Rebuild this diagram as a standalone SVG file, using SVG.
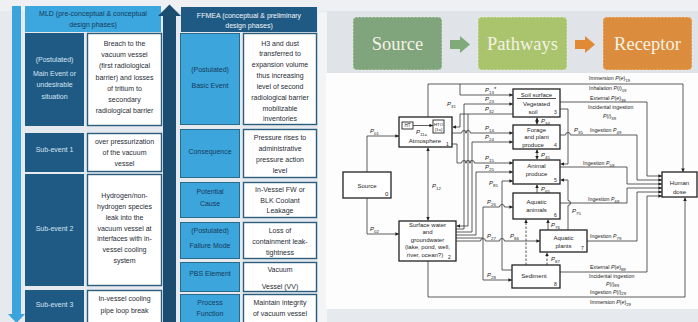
<svg xmlns="http://www.w3.org/2000/svg" width="698" height="322" viewBox="0 0 698 322">
<defs>
<style>
.t7{font-family:"Liberation Sans",Arial,sans-serif;font-size:7px;text-anchor:middle}
.tl{fill:#d3e5f3}
.tn{fill:#153a5c}
.tb{fill:#1f2b36}
.dk{fill:#1f5a84}
.wb{fill:#fff;stroke:#2b5d7e;stroke-width:1.4}
.lb{fill:#3ca6dc;stroke:#2a6a8a;stroke-width:1}
.spr{font-family:"Liberation Serif","Times New Roman",serif;font-size:18.5px;fill:#f4f2e6;text-anchor:middle}
.bx{fill:#fff;stroke:#222;stroke-width:1.3}
.ln{fill:none;stroke:#333;stroke-width:0.8}
.ar{marker-end:url(#ah)}
.ab{marker-start:url(#ah);marker-end:url(#ah)}
.dl{stroke-dasharray:2.5 1.5}
.dt{font-family:"Liberation Sans",Arial,sans-serif;font-size:6px;fill:#222}
.dc{text-anchor:middle}
.lt{font-family:"Liberation Sans",Arial,sans-serif;font-size:5.3px;fill:#222}
.pl{font-family:"Liberation Sans",Arial,sans-serif;font-size:6px;font-style:italic;fill:#222}
.sb{font-size:4.3px;font-style:normal}
</style>
<marker id="ah" viewBox="0 0 6 6" refX="6" refY="3" markerUnits="userSpaceOnUse" markerWidth="3.6" markerHeight="3.6" orient="auto-start-reverse"><path d="M0,0 L6,3 L0,6 z" fill="#222"/></marker>
</defs>

<rect width="698" height="322" fill="#e6eaee"/>
<rect x="0" y="0" width="698" height="11" fill="#eef0f3"/>
<rect x="318" y="12" width="9" height="310" fill="#f2f4f6"/>
<rect x="327" y="11" width="371" height="62" fill="#e0e4e9"/>
<rect x="326" y="73" width="372" height="236" fill="#fdfdfd"/>

<!-- MLD column -->
<g id="mld-axis">
<rect x="12" y="6" width="9" height="309" fill="#3ba4dc"/>
<polygon points="8,314 25,314 16.5,323" fill="#3ba4dc"/>
</g>
<g id="mld-header">
<rect x="25" y="6" width="136" height="26" fill="#3ba7de"/>
<text class="t7 tn" x="93" y="15.5">MLD (pre-conceptual &amp; conceptual</text>
<text class="t7 tn" x="93" y="26.5">design phases)</text>
</g>
<g id="mld-main">
<rect class="dk" x="25" y="33" width="59" height="93"/>
<rect class="wb" x="87.5" y="33.5" width="74" height="92"/>
<text class="t7 tl" x="54.5" y="62">(Postulated)</text>
<text class="t7 tl" x="54.5" y="76">Main Event or</text>
<text class="t7 tl" x="54.5" y="87">undesirable</text>
<text class="t7 tl" x="54.5" y="98.5">situation</text>
<text class="t7 tb" x="124.5" y="46">Breach to the</text>
<text class="t7 tb" x="124.5" y="57">vacuum vessel</text>
<text class="t7 tb" x="124.5" y="68">(first radiological</text>
<text class="t7 tb" x="124.5" y="79.5">barrier) and losses</text>
<text class="t7 tb" x="124.5" y="90.5">of tritium to</text>
<text class="t7 tb" x="124.5" y="101.5">secondary</text>
<text class="t7 tb" x="124.5" y="112.5">radiological barrier</text>
</g>
<g id="mld-sub1">
<rect class="dk" x="25" y="133" width="59" height="39"/>
<rect class="wb" x="87.5" y="133.5" width="74" height="38"/>
<text class="t7 tl" x="54.5" y="151.5">Sub-event 1</text>
<text class="t7 tb" x="124.5" y="144">over pressurization</text>
<text class="t7 tb" x="124.5" y="155">of the vacuum</text>
<text class="t7 tb" x="124.5" y="165.5">vessel</text>
</g>
<g id="mld-sub2">
<rect class="dk" x="25" y="174" width="59" height="112"/>
<rect class="wb" x="87.5" y="174.5" width="74" height="111"/>
<text class="t7 tl" x="54.5" y="230.5">Sub-event 2</text>
<text class="t7 tb" x="124.5" y="197.5">Hydrogen/non-</text>
<text class="t7 tb" x="124.5" y="209">hydrogen species</text>
<text class="t7 tb" x="124.5" y="219.5">leak into the</text>
<text class="t7 tb" x="124.5" y="230.5">vacuum vessel at</text>
<text class="t7 tb" x="124.5" y="241">interfaces with in-</text>
<text class="t7 tb" x="124.5" y="251.5">vessel cooling</text>
<text class="t7 tb" x="124.5" y="262.5">system</text>
</g>
<g id="mld-sub3">
<rect class="dk" x="25" y="290" width="59" height="40"/>
<rect class="wb" x="87.5" y="290.5" width="74" height="40"/>
<text class="t7 tl" x="54.5" y="306.5">Sub-event 3</text>
<text class="t7 tb" x="124.5" y="300.5">In-vessel cooling</text>
<text class="t7 tb" x="124.5" y="312.5">pipe loop break</text>
</g>

<!-- FFMEA column -->
<g id="ffmea-axis">
<rect x="163" y="15" width="13" height="307" fill="#1b4d70"/>
<polygon points="158,16 169.5,4.5 181,16" fill="#1b4d70"/>
</g>
<g id="ffmea-header">
<rect x="181" y="7" width="136" height="25" fill="#1f5a84"/>
<text class="t7" fill="#f2f6fa" x="249" y="17.5">FFMEA (conceptual &amp; preliminary</text>
<text class="t7" fill="#f2f6fa" x="249" y="28">design phases)</text>
</g>
<g id="ffmea-basic">
<rect class="lb" x="180.5" y="33.5" width="59" height="91"/>
<rect class="wb" x="243.5" y="33.5" width="73" height="91"/>
<text class="t7 tn" x="210" y="71.5">(Postulated)</text>
<text class="t7 tn" x="210" y="87.5">Basic Event</text>
<text class="t7 tb" x="280" y="45.5">H3 and dust</text>
<text class="t7 tb" x="280" y="56">transferred to</text>
<text class="t7 tb" x="280" y="66.5">expansion volume</text>
<text class="t7 tb" x="280" y="78">thus increasing</text>
<text class="t7 tb" x="280" y="89">level of second</text>
<text class="t7 tb" x="280" y="100">radiological barrier</text>
<text class="t7 tb" x="280" y="110.5">mobilizable</text>
<text class="t7 tb" x="280" y="120.5">inventories</text>
</g>
<g id="ffmea-consequence">
<rect class="lb" x="180.5" y="129.5" width="59" height="48"/>
<rect class="wb" x="243.5" y="129.5" width="73" height="48"/>
<text class="t7 tn" x="210" y="153.5">Consequence</text>
<text class="t7 tb" x="280" y="139.5">Pressure rises to</text>
<text class="t7 tb" x="280" y="150.5">administrative</text>
<text class="t7 tb" x="280" y="161.5">pressure action</text>
<text class="t7 tb" x="280" y="172.5">level</text>
</g>
<g id="ffmea-cause">
<rect class="lb" x="180.5" y="182.5" width="59" height="35"/>
<rect class="wb" x="243.5" y="182.5" width="73" height="35"/>
<text class="t7 tn" x="210" y="193.5">Potential</text>
<text class="t7 tn" x="210" y="205.5">Cause</text>
<text class="t7 tb" x="280" y="191.5">In-Vessel FW or</text>
<text class="t7 tb" x="280" y="202.5">BLK Coolant</text>
<text class="t7 tb" x="280" y="212.5">Leakage</text>
</g>
<g id="ffmea-failure">
<rect class="lb" x="180.5" y="222.5" width="59" height="36"/>
<rect class="wb" x="243.5" y="222.5" width="73" height="36"/>
<text class="t7 tn" x="210" y="232.5">(Postulated)</text>
<text class="t7 tn" x="210" y="247.5">Failure Mode</text>
<text class="t7 tb" x="280" y="232.5">Loss of</text>
<text class="t7 tb" x="280" y="243.5">containment leak-</text>
<text class="t7 tb" x="280" y="254.5">tightness</text>
</g>
<g id="ffmea-pbs">
<rect class="lb" x="180.5" y="262.5" width="59" height="29"/>
<rect class="wb" x="243.5" y="262.5" width="73" height="29"/>
<text class="t7 tn" x="210" y="275.5">PBS Element</text>
<text class="t7 tb" x="280" y="271.5">Vacuum</text>
<text class="t7 tb" x="280" y="288.5">Vessel (VV)</text>
</g>
<g id="ffmea-process">
<rect class="lb" x="180.5" y="294.5" width="59" height="36"/>
<rect class="wb" x="243.5" y="294.5" width="73" height="36"/>
<text class="t7 tn" x="210" y="304.5">Process</text>
<text class="t7 tn" x="210" y="315.5">Function</text>
<text class="t7 tb" x="280" y="304.5">Maintain integrity</text>
<text class="t7 tb" x="280" y="316">of vacuum vessel</text>
</g>

<!-- Source / Pathways / Receptor -->
<g id="spr-source">
<rect x="353" y="17" width="89" height="53" rx="4" fill="#80a47c" stroke="#e6eedb" stroke-width="0.8" stroke-dasharray="2 1.5"/>
<text class="spr" x="397.5" y="50">Source</text>
</g>
<g id="spr-pathways">
<rect x="478" y="17" width="89" height="53" rx="4" fill="#a9c46d" stroke="#eef3d8" stroke-width="0.8" stroke-dasharray="2 1.5"/>
<text class="spr" x="522.5" y="50">Pathways</text>
</g>
<g id="spr-receptor">
<rect x="603" y="17" width="89" height="53" rx="4" fill="#db8c3c" stroke="#f6e2c8" stroke-width="0.8" stroke-dasharray="2 1.5"/>
<text class="spr" x="647.5" y="50">Receptor</text>
</g>

<!-- Pathway model nodes -->
<g id="n-source">
<rect class="bx" x="343" y="172" width="48" height="26"/>
<text class="dt dc" x="367" y="188">Source</text>
<text class="dt" x="385" y="196">0</text>
</g>
<g id="n-atmosphere">
<rect class="bx" x="399" y="117" width="53" height="30"/>
<rect x="402" y="122" width="11" height="7" fill="#fff" stroke="#222" stroke-width="0.9"/>
<text class="dt dc" style="font-size:4.5px" x="407.5" y="127.3">HT</text>
<rect x="433" y="120" width="11" height="13" fill="#fff" stroke="#222" stroke-width="0.9"/>
<text class="dt dc" style="font-size:4.3px" x="438.5" y="125.5">HTO</text>
<text class="dt dc" style="font-size:4.3px" x="438.5" y="131">(1a)</text>
<text class="dt dc" x="425" y="143">Atmosphere</text>
<text class="dt" style="font-size:5px" x="446" y="145.5">1</text>
</g>
<g id="n-surface-water">
<rect class="bx" x="399" y="221" width="57" height="40"/>
<text class="dt dc" x="427.5" y="226.5">Surface water</text>
<text class="dt dc" x="427.5" y="234">and</text>
<text class="dt dc" x="427.5" y="241.5">groundwater</text>
<text class="dt dc" x="427.5" y="249">(lake, pond, well,</text>
<text class="dt dc" x="425" y="256.5">river, ocean?)</text>
<text class="dt" style="font-size:5px" x="448" y="259">2</text>
</g>
<g id="n-soil">
<rect class="bx" x="513" y="89" width="47" height="28"/>
<text class="dt dc" x="536.5" y="96.5">Soil surface</text>
<line x1="517" y1="98.5" x2="556" y2="98.5" stroke="#222" stroke-width="0.8"/>
<text class="dt dc" x="536.5" y="106">Vegetated</text>
<text class="dt dc" x="533" y="114">soil</text>
<text class="dt" style="font-size:5px" x="554" y="114">3</text>
</g>
<g id="n-forage">
<rect class="bx" x="513" y="125" width="47" height="24"/>
<text class="dt dc" x="536.5" y="131.5">Forage</text>
<text class="dt dc" x="536.5" y="139">and plant</text>
<text class="dt dc" x="533" y="146.5">produce</text>
<text class="dt" style="font-size:5px" x="554" y="146.5">4</text>
</g>
<g id="n-animal-produce">
<rect class="bx" x="513" y="160" width="47" height="24"/>
<text class="dt dc" x="536.5" y="168">Animal</text>
<text class="dt dc" x="536.5" y="176">produce</text>
<text class="dt" style="font-size:5px" x="554" y="182">5</text>
</g>
<g id="n-aquatic-animals">
<rect class="bx" x="513" y="193" width="47" height="26"/>
<text class="dt dc" x="536.5" y="204">Aquatic</text>
<text class="dt dc" x="536.5" y="212">animals</text>
<text class="dt" style="font-size:5px" x="554" y="217">6</text>
</g>
<g id="n-aquatic-plants">
<rect class="bx" x="540" y="230" width="47" height="22"/>
<text class="dt dc" x="563.5" y="239.5">Aquatic</text>
<text class="dt dc" x="563.5" y="247.5">plants</text>
<text class="dt" style="font-size:5px" x="581" y="250">7</text>
</g>
<g id="n-sediment">
<rect class="bx" x="512" y="265" width="48" height="23"/>
<text class="dt dc" x="534" y="277.5">Sediment</text>
<text class="dt" style="font-size:5px" x="554" y="286">8</text>
</g>
<g id="n-human-dose">
<rect class="bx" x="662" y="172" width="35" height="25"/>
<text class="dt dc" x="679.5" y="185">Human</text>
<text class="dt dc" x="679.5" y="193.5">dose</text>
</g>

<g id="connectors">
<!-- source/pathways/receptor block arrows -->
<polygon points="450,40 460,40 460,36 470,44.5 460,53 460,49 450,49" fill="#7fab7b"/>
<polygon points="575,40 585,40 585,36 595,44.5 585,53 585,49 575,49" fill="#e08a35"/>

<!-- inside atmosphere -->
<path class="ln ar" d="M413,125.5 H433"/>
<text class="pl" x="416" y="134">P<tspan class="sb" dy="1.5">11a</tspan></text>

<!-- source -->
<path class="ln ar" d="M367,172 V136 H399"/>
<text class="pl" x="370" y="133">P<tspan class="sb" dy="1.5">01</tspan></text>
<path class="ln ar" d="M367,198 V234 H399"/>
<text class="pl" x="370" y="231">P<tspan class="sb" dy="1.5">02</tspan></text>

<!-- atmosphere / surface water -->
<path class="ln ab" d="M428,147.5 V220.5"/>
<text class="pl" x="432" y="188">P<tspan class="sb" dy="1.5">12</tspan></text>

<!-- atmosphere to human: immersion & inhalation -->
<path class="ln ar" d="M428,117 V84 H683 V172"/>
<text class="lt" x="589" y="80">Immersion  <tspan font-style="italic">P</tspan>(<tspan font-style="italic">e</tspan>)<tspan class="sb" dy="1.5">19</tspan></text>
<text class="lt" x="589" y="90">Inhalation   <tspan font-style="italic">P</tspan>(<tspan font-style="italic">i</tspan>)<tspan class="sb" dy="1.5">19</tspan></text>

<!-- atmosphere to soil / forage / animal -->
<path class="ln ar" d="M460,84 V95 H513"/>
<text class="pl" x="485" y="92">P<tspan class="sb" dy="1.5">13</tspan><tspan dy="-3">*</tspan></text>
<path class="ln ar" d="M468,114 H460 V127 H452.5"/>
<text class="pl" x="447" y="106">P<tspan class="sb" dy="1.5">31</tspan></text>
<path class="ln ar" d="M452,133 H461.5 a2.5,2.5 0 0 1 5,0 H465.5 a2.5,2.5 0 0 1 5,0 H513"/>
<text class="pl" x="485" y="130">P<tspan class="sb" dy="1.5">14</tspan></text>
<path class="ln ar" d="M452,144 H457 V163 H461.5 a2.5,2.5 0 0 1 5,0 H465.5 a2.5,2.5 0 0 1 5,0 H469.5 a2.5,2.5 0 0 1 5,0 H513"/>
<text class="pl" x="485" y="160">P<tspan class="sb" dy="1.5">15</tspan></text>

<!-- surface water to terrestrial compartments -->
<path class="ln ar" d="M456,229 H464 V104 H513"/>
<text class="pl" x="485" y="101">P<tspan class="sb" dy="1.5">23</tspan></text>
<path class="ln ar" d="M513,114 H468 V226 H456.5"/>
<text class="pl" x="485" y="111">P<tspan class="sb" dy="1.5">32</tspan></text>
<path class="ln ar" d="M456,232 H472 V142 H513"/>
<text class="pl" x="485" y="139">P<tspan class="sb" dy="1.5">24</tspan></text>
<path class="ln ar" d="M456,235 H476 V172 H513"/>
<text class="pl" x="485" y="169">P<tspan class="sb" dy="1.5">25</tspan></text>

<!-- surface water to aquatic compartments -->
<path class="ln ar" d="M456,238 H483 V207 H499.5 a2.5,2.5 0 0 1 5,0 H513"/>
<text class="pl" x="487" y="204">P<tspan class="sb" dy="1.5">26</tspan></text>
<path class="ln ar" d="M483,238 V280 H512"/>
<text class="pl" x="487" y="277">P<tspan class="sb" dy="1.5">28</tspan></text>
<path class="ln ar" d="M456,241 H480.5 a2.5,2.5 0 0 1 5,0 H499.5 a2.5,2.5 0 0 1 5,0 H540"/>
<text class="pl" x="487" y="238">P<tspan class="sb" dy="1.5">27</tspan></text>
<text class="pl" x="510" y="238">P<tspan class="sb" dy="1.5">86</tspan></text>

<!-- sediment to animal produce -->
<path class="ln ar" d="M512,270 H502 V181 H513"/>
<text class="pl" x="489" y="185">P<tspan class="sb" dy="1.5">85</tspan></text>

<!-- vertical transfers -->
<path class="ln ab" d="M537,117.5 V124.5"/>
<text class="pl" x="541" y="123">P<tspan class="sb" dy="1.5">34</tspan></text>
<path class="ln ab" d="M537,149.5 V159.5"/>
<text class="pl" x="541" y="157">P<tspan class="sb" dy="1.5">45</tspan></text>
<path class="ln ar" d="M537,193 V184.5"/>
<text class="pl" x="541" y="191">P<tspan class="sb" dy="1.5">65</tspan></text>
<path class="ln ar" d="M548,230 V219.5"/>
<text class="pl" x="551" y="227">P<tspan class="sb" dy="1.5">76</tspan></text>
<path class="ln ar dl" d="M547,265 V252.5"/>
<text class="pl" x="551" y="261">P<tspan class="sb" dy="1.5">87</tspan></text>
<path class="ln ar dl" d="M526,265 V219.5"/>

<!-- soil to animal produce, plants to animal produce -->
<path class="ln ar" d="M560,109 H568 V164 H560.5"/>
<path class="ln ar" d="M568,230 V205.5 a2.5,2.5 0 0 0 0,-5 V180 H560.5"/>
<text class="pl" x="572" y="213">P<tspan class="sb" dy="1.5">75</tspan></text>

<!-- exposure pathways to human dose -->
<path class="ln ar" d="M560,102 H647 V176 H662"/>
<text class="lt" x="590" y="100">External  <tspan font-style="italic">P</tspan>(<tspan font-style="italic">e</tspan>)<tspan class="sb" dy="1.5">39</tspan></text>
<text class="lt" x="588" y="109">Incidental ingestion</text>
<text class="lt" x="603" y="118"><tspan font-style="italic">P</tspan>(<tspan font-style="italic">i</tspan>)<tspan class="sb" dy="1.5">39</tspan></text>

<path class="ln ar" d="M560,135 H565.5 a2.5,2.5 0 0 1 5,0 H637 V180 H662"/>
<text class="pl" x="574" y="132">P<tspan class="sb" dy="1.5">35</tspan></text>
<text class="lt" x="590" y="132">Ingestion  <tspan font-style="italic">P</tspan><tspan class="sb" dy="1.5">49</tspan></text>

<path class="ln ar" d="M560,167 H627 V184 H662"/>
<text class="lt" x="583" y="165">Ingestion  <tspan font-style="italic">P</tspan><tspan class="sb" dy="1.5">59</tspan></text>

<path class="ln ar" d="M560,203 H627 V188 H662"/>
<text class="lt" x="588" y="201">Ingestion  <tspan font-style="italic">P</tspan><tspan class="sb" dy="1.5">69</tspan></text>

<path class="ln ar" d="M587,241 H637 V192 H662"/>
<text class="lt" x="590" y="238">Ingestion  <tspan font-style="italic">P</tspan><tspan class="sb" dy="1.5">79</tspan></text>

<path class="ln ar" d="M560,272 H647 V196 H662"/>
<text class="lt" x="590" y="269">External   <tspan font-style="italic">P</tspan>(<tspan font-style="italic">e</tspan>)<tspan class="sb" dy="1.5">89</tspan></text>
<text class="lt" x="589" y="278">Incidental ingestion</text>
<text class="lt" x="606" y="285.5"><tspan font-style="italic">P</tspan>(<tspan font-style="italic">i</tspan>)<tspan class="sb" dy="1.5">89</tspan></text>

<path class="ln ar" d="M428,261 V297 H685 V197.5"/>
<text class="lt" x="590" y="293.5">Ingestion     <tspan font-style="italic">P</tspan>(<tspan font-style="italic">i</tspan>)<tspan class="sb" dy="1.5">29</tspan></text>
<text class="lt" x="590" y="304">Immersion   <tspan font-style="italic">P</tspan>(<tspan font-style="italic">e</tspan>)<tspan class="sb" dy="1.5">29</tspan></text>
</g>
</svg>
